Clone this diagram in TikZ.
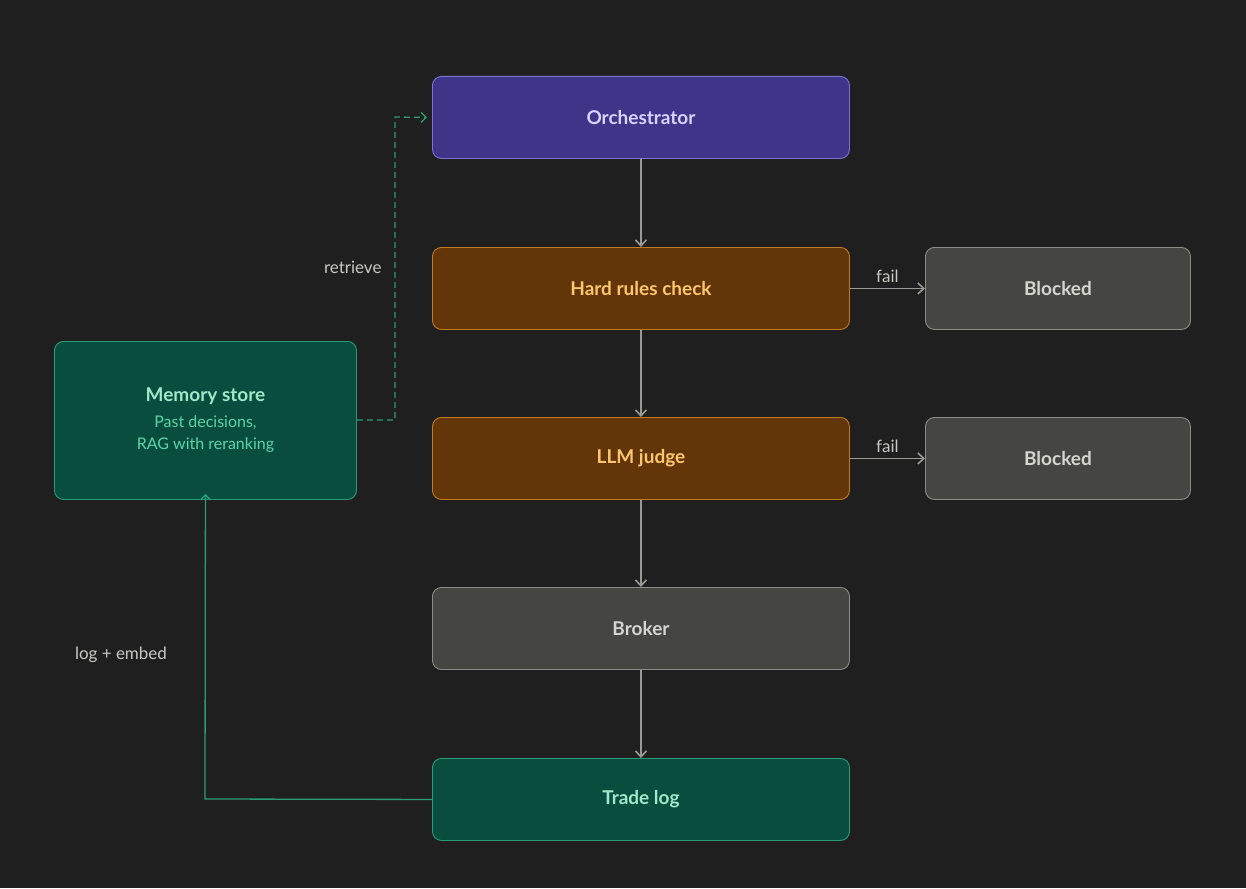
\documentclass[tikz,border=0pt]{standalone}
\usepackage{fontspec}
\setmainfont{Lato}
\usetikzlibrary{arrows.meta}
\definecolor{bg}{HTML}{1F1F1F}
\definecolor{orf}{HTML}{3E3589}\definecolor{ord}{HTML}{7D72D6}\definecolor{ort}{HTML}{D9D3FF}
\definecolor{hrf}{HTML}{623608}\definecolor{hrd}{HTML}{C27A1E}\definecolor{hrt}{HTML}{FFC670}
\definecolor{gyf}{HTML}{454541}\definecolor{gyd}{HTML}{8C8C87}\definecolor{gyt}{HTML}{D6D6D0}
\definecolor{gnf}{HTML}{094D3E}\definecolor{gnd}{HTML}{2A9B78}\definecolor{gnt}{HTML}{A0E8C9}\definecolor{gns}{HTML}{5ED3A6}
\definecolor{arr}{HTML}{9A9A95}\definecolor{lbl}{HTML}{C8C8C2}
\newcommand\subtxt{\mdseries\fontsize{16}{24}\selectfont\color{gns}}
\tikzset{
 x=1pt,y=-1pt,
 box/.style={rounded corners=9pt,line width=0.9pt,minimum width=417pt,minimum height=82pt,font=\fontsize{19}{22}\selectfont\bfseries,anchor=north west},
 purp/.style={box,fill=orf,draw=ord,text=ort},
 orng/.style={box,fill=hrf,draw=hrd,text=hrt},
 gray/.style={box,fill=gyf,draw=gyd,text=gyt},
 grn/.style={box,fill=gnf,draw=gnd,text=gnt},
 conn/.style={draw=arr,line width=1.6pt,-{Straight Barb[length=6pt,width=11pt]}},
 gconn/.style={draw=gnd,line width=1.3pt,-{Straight Barb[length=5pt,width=10pt]}},
 lab/.style={text=lbl,font=\fontsize{17}{20}\selectfont}
}
\begin{document}
\begin{tikzpicture}
\fill[bg] (0,0) rectangle (1246,888);
\useasboundingbox (0,0) rectangle (1246,888);
\node[purp] (orch) at (432,76) {Orchestrator};
\node[orng] (hard) at (432,247) {Hard rules check};
\node[orng] (llm) at (432,417) {LLM judge};
\node[gray] (broker) at (432,587) {Broker};
\node[grn] (trade) at (432,758) {Trade log};
\node[gray,minimum width=265pt] (b1) at (925,247) {Blocked};
\node[gray,minimum width=265pt] (b2) at (925,417) {Blocked};
\node[grn,minimum width=302pt,minimum height=158pt,align=center] (mem) at (54,341)
 {Memory store\\[4pt]\subtxt Past decisions,\\\subtxt RAG with reranking};
\draw[conn] (orch) -- (hard);
\draw[conn] (hard) -- (llm);
\draw[conn] (llm) -- (broker);
\draw[conn] (broker) -- (trade);
\draw[conn] (hard) -- node[lab,above=2pt]{fail} (b1);
\draw[conn] (llm) -- node[lab,above=2pt]{fail} (b2);
\coordinate (r1) at (395,420);
\coordinate (r2) at (395,117);
\draw[gconn,dashed,dash pattern=on 6pt off 4pt] (mem.east |- r1) -- (r1) -- (r2) -- ([xshift=-5pt]orch.west);
\node[lab,anchor=east] (rt) at (385,267) {retrieve};
\coordinate (l1) at (205,799);
\draw[gconn] (trade.west) -- (l1) -- ([yshift=6pt]mem.south);
\node[lab] (le) at (121,655) {log + embed};
\end{tikzpicture}
\end{document}
